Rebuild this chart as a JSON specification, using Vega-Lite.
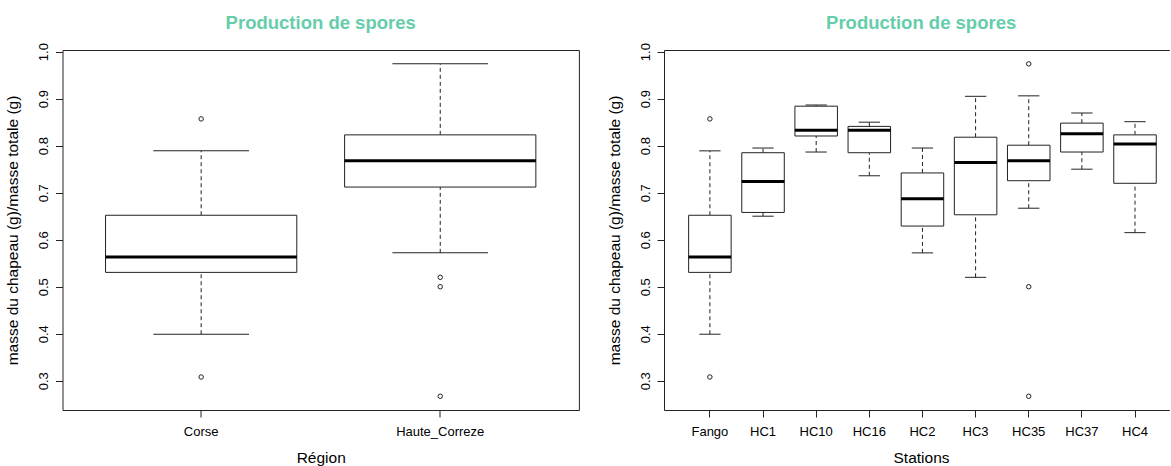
{
  "$schema": "https://vega.github.io/schema/vega-lite/v6.json",
  "padding": {"left": 4.5, "top": 13, "right": 0, "bottom": 0},
  "autosize": {"type": "pad"},
  "spacing": 27.5,
  "background": "white",
  "config": {
    "font": "Liberation Sans",
    "view": {"stroke": "#222", "strokeWidth": 1},
    "axis": {
      "grid": false,
      "tickColor": "#222",
      "domainColor": "#222",
      "labelColor": "#000",
      "titleColor": "#000",
      "labelFont": "Liberation Sans",
      "titleFont": "Liberation Sans",
      "labelFontSize": 13,
      "titleFontSize": 15.5,
      "titleFontWeight": "normal",
      "tickSize": 7
    },
    "title": {
      "font": "Liberation Sans",
      "fontSize": 18.5,
      "fontWeight": "bold",
      "color": "#66CDAA",
      "frame": "group",
      "anchor": "middle",
      "baseline": "alphabetic",
      "offset": 10.3
    }
  },
  "datasets": {
    "region": [
      {"region": "Corse", "lower": 0.399, "q1": 0.5305, "median": 0.563, "q3": 0.652, "upper": 0.789},
      {"region": "Haute_Correze", "lower": 0.572, "q1": 0.712, "median": 0.768, "q3": 0.823, "upper": 0.974}
    ],
    "regionOut": [
      {"region": "Corse", "value": 0.857},
      {"region": "Corse", "value": 0.308},
      {"region": "Haute_Correze", "value": 0.520},
      {"region": "Haute_Correze", "value": 0.500},
      {"region": "Haute_Correze", "value": 0.267}
    ],
    "station": [
      {"station": "Fango", "lower": 0.399, "q1": 0.5305, "median": 0.563, "q3": 0.652, "upper": 0.789},
      {"station": "HC1", "lower": 0.650, "q1": 0.658, "median": 0.724, "q3": 0.785, "upper": 0.795},
      {"station": "HC10", "lower": 0.7865, "q1": 0.8206, "median": 0.833, "q3": 0.884, "upper": 0.8865},
      {"station": "HC16", "lower": 0.736, "q1": 0.785, "median": 0.833, "q3": 0.841, "upper": 0.850},
      {"station": "HC2", "lower": 0.572, "q1": 0.629, "median": 0.687, "q3": 0.742, "upper": 0.795},
      {"station": "HC3", "lower": 0.520, "q1": 0.653, "median": 0.764, "q3": 0.818, "upper": 0.905},
      {"station": "HC35", "lower": 0.667, "q1": 0.7255, "median": 0.768, "q3": 0.801, "upper": 0.906},
      {"station": "HC37", "lower": 0.750, "q1": 0.7865, "median": 0.8255, "q3": 0.848, "upper": 0.8695},
      {"station": "HC4", "lower": 0.615, "q1": 0.720, "median": 0.8035, "q3": 0.823, "upper": 0.851}
    ],
    "stationOut": [
      {"station": "Fango", "value": 0.857},
      {"station": "Fango", "value": 0.308},
      {"station": "HC35", "value": 0.974},
      {"station": "HC35", "value": 0.500},
      {"station": "HC35", "value": 0.267}
    ]
  },
  "hconcat": [
    {
      "width": 516.4,
      "height": 360,
      "title": {"text": "Production de spores"},
      "data": {"name": "region"},
      "encoding": {
        "x": {
          "field": "region",
          "type": "nominal",
          "sort": ["Corse", "Haute_Correze"],
          "scale": {"type": "band", "domain": ["Corse", "Haute_Correze"], "paddingInner": 0.2, "paddingOuter": 0.18},
          "axis": {"title": "Région", "labelAngle": 0, "labelPadding": 8, "titlePadding": 12, "domain": false}
        }
      },
      "layer": [
        {
          "mark": {"type": "rule", "strokeDash": [4, 3], "color": "#222", "strokeWidth": 1},
          "encoding": {
            "y": {
              "field": "q3",
              "type": "quantitative",
              "scale": {"domain": [0.2378, 1.0035], "nice": false, "zero": false},
              "axis": {
                "title": "masse du chapeau (g)/masse totale (g)",
                "values": [0.3, 0.4, 0.5, 0.6, 0.7, 0.8, 0.9, 1.0],
                "format": ".1f",
                "labelAngle": 270,
                "labelAlign": "center",
                "labelBaseline": "alphabetic",
                "labelPadding": 8,
                "minExtent": 28,
                "maxExtent": 28,
                "titlePadding": 14,
                "domain": false
              }
            },
            "y2": {"field": "upper"}
          }
        },
        {
          "mark": {"type": "rule", "strokeDash": [4, 3], "color": "#222", "strokeWidth": 1},
          "encoding": {"y": {"field": "lower", "type": "quantitative"}, "y2": {"field": "q1"}}
        },
        {
          "mark": {"type": "tick", "size": 95.7, "thickness": 1, "color": "#222", "opacity": 1},
          "encoding": {"y": {"field": "upper", "type": "quantitative"}}
        },
        {
          "mark": {"type": "tick", "size": 95.7, "thickness": 1, "color": "#222", "opacity": 1},
          "encoding": {"y": {"field": "lower", "type": "quantitative"}}
        },
        {
          "mark": {"type": "bar", "fill": "white", "stroke": "#222", "strokeWidth": 1},
          "encoding": {"y": {"field": "q1", "type": "quantitative"}, "y2": {"field": "q3"}}
        },
        {
          "mark": {"type": "tick", "size": 191.4, "thickness": 3, "color": "#000", "opacity": 1},
          "encoding": {"y": {"field": "median", "type": "quantitative"}}
        },
        {
          "data": {"name": "regionOut"},
          "mark": {"type": "point", "shape": "circle", "filled": false, "size": 20, "color": "#222", "strokeWidth": 1, "opacity": 1},
          "encoding": {"y": {"field": "value", "type": "quantitative"}}
        }
      ]
    },
    {
      "width": 505.3,
      "height": 360,
      "view": {"stroke": null},
      "title": {"text": "Production de spores", "dx": 4.5},
      "data": {"name": "station"},
      "resolve": {"axis": {"x": "independent"}},
      "layer": [
        {
          "mark": {"type": "rule", "strokeDash": [4, 3], "color": "#222", "strokeWidth": 1},
          "encoding": {
            "x": {
              "field": "station",
              "type": "nominal",
              "sort": ["Fango", "HC1", "HC10", "HC16", "HC2", "HC3", "HC35", "HC37", "HC4"],
              "scale": {"type": "band", "domain": ["Fango", "HC1", "HC10", "HC16", "HC2", "HC3", "HC35", "HC37", "HC4"], "paddingInner": 0.2, "paddingOuter": 0.3545, "align": 0.654},
              "axis": {"title": "Stations", "labelAngle": 0, "labelPadding": 8, "titlePadding": 12, "domain": true, "titleX": 257}
            },
            "y": {
              "field": "q3",
              "type": "quantitative",
              "scale": {"domain": [0.2378, 1.0035], "nice": false, "zero": false},
              "axis": {
                "title": "masse du chapeau (g)/masse totale (g)",
                "values": [0.3, 0.4, 0.5, 0.6, 0.7, 0.8, 0.9, 1.0],
                "format": ".1f",
                "labelAngle": 270,
                "labelAlign": "center",
                "labelBaseline": "alphabetic",
                "labelPadding": 8,
                "minExtent": 28,
                "maxExtent": 28,
                "titlePadding": 14,
                "domain": true
              }
            },
            "y2": {"field": "upper"}
          }
        },
        {
          "mark": {"type": "rule", "strokeDash": [4, 3], "color": "#222", "strokeWidth": 1},
          "encoding": {
            "x": {"field": "station", "type": "nominal", "axis": null},
            "y": {"field": "lower", "type": "quantitative"},
            "y2": {"field": "q1"}
          }
        },
        {
          "mark": {"type": "tick", "size": 21.3, "thickness": 1, "color": "#222", "opacity": 1},
          "encoding": {
            "x": {"field": "station", "type": "nominal", "axis": null},
            "y": {"field": "upper", "type": "quantitative"}
          }
        },
        {
          "mark": {"type": "tick", "size": 21.3, "thickness": 1, "color": "#222", "opacity": 1},
          "encoding": {
            "x": {"field": "station", "type": "nominal", "axis": null},
            "y": {"field": "lower", "type": "quantitative"}
          }
        },
        {
          "mark": {"type": "bar", "fill": "white", "stroke": "#222", "strokeWidth": 1},
          "encoding": {
            "x": {"field": "station", "type": "nominal", "axis": {"orient": "top", "labels": false, "ticks": false, "domain": true, "title": null}},
            "y": {"field": "q1", "type": "quantitative"},
            "y2": {"field": "q3"}
          }
        },
        {
          "mark": {"type": "tick", "size": 42.5, "thickness": 3, "color": "#000", "opacity": 1},
          "encoding": {
            "x": {"field": "station", "type": "nominal", "axis": null},
            "y": {"field": "median", "type": "quantitative"}
          }
        },
        {
          "data": {"name": "stationOut"},
          "mark": {"type": "point", "shape": "circle", "filled": false, "size": 20, "color": "#222", "strokeWidth": 1, "opacity": 1},
          "encoding": {
            "x": {"field": "station", "type": "nominal", "axis": null},
            "y": {"field": "value", "type": "quantitative"}
          }
        }
      ]
    }
  ]
}
